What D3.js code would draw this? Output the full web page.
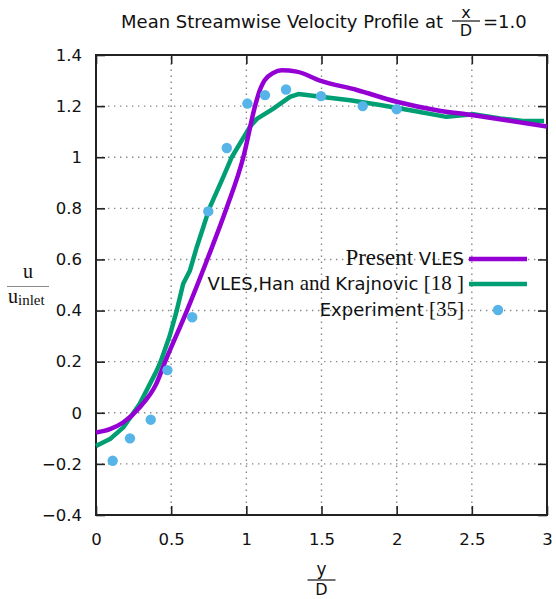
<!DOCTYPE html>
<html>
<head>
<meta charset="utf-8">
<script src="https://cdn.jsdelivr.net/npm/d3@7"></script>
<style>
  body { margin: 0; background: #fff; }
  svg { display: block; }
</style>
</head>
<body>
<div id="chart"></div>
<script>
// Present VLES (y/D, u/u_inlet)
const vlesX = [0, 0.093, 0.18, 0.29, 0.40, 0.46, 0.605, 0.74, 0.868, 0.98, 1.058, 1.09, 1.12, 1.18, 1.235, 1.335, 1.49, 1.735, 2.0, 2.267, 2.5, 2.73, 3.0];
const vlesY = [-0.077, -0.064, -0.038, 0.021, 0.112, 0.2, 0.4, 0.6, 0.8, 1.0, 1.2, 1.263, 1.30, 1.33, 1.34, 1.335, 1.30, 1.263, 1.217, 1.184, 1.165, 1.145, 1.12];

// VLES, Han and Krajnovic [18]
const hanX = [0, 0.093, 0.18, 0.29, 0.40, 0.43, 0.49, 0.537, 0.58, 0.625, 0.67, 0.714, 0.754, 0.847, 0.903, 0.958, 1.025, 1.07, 1.18, 1.29, 1.346, 1.51, 1.69, 1.89, 2.09, 2.33, 2.51, 2.69, 2.84, 2.98];
const hanY = [-0.13, -0.103, -0.058, 0.034, 0.16, 0.2, 0.3, 0.4, 0.505, 0.557, 0.648, 0.727, 0.8, 0.923, 1.0, 1.054, 1.12, 1.15, 1.19, 1.236, 1.247, 1.236, 1.223, 1.204, 1.184, 1.158, 1.168, 1.152, 1.142, 1.142];

// Experiment [35]
const expX = [0.111, 0.226, 0.364, 0.475, 0.64, 0.747, 0.87, 1.007, 1.124, 1.264, 1.497, 1.774, 2.0];
const expY = [-0.188, -0.10, -0.027, 0.167, 0.374, 0.788, 1.036, 1.21, 1.243, 1.265, 1.239, 1.20, 1.188];

const xTicks = [0, 0.5, 1, 1.5, 2, 2.5, 3];
const yTicks = [-0.4, -0.2, 0, 0.2, 0.4, 0.6, 0.8, 1, 1.2, 1.4];

const width = 556, height = 599;
const margin = { left: 96, right: 9, top: 55, bottom: 84 };
const iw = width - margin.left - margin.right;
const ih = height - margin.top - margin.bottom;

const sans = "'DejaVu Sans', Verdana, sans-serif";
const serif = "'Liberation Serif', 'Times New Roman', serif";

const svg = d3.select("#chart").append("svg")
    .attr("width", width)
    .attr("height", height);

const x = d3.scaleLinear().domain([0, 3]).range([margin.left, margin.left + iw]);
const y = d3.scaleLinear().domain([-0.4, 1.4]).range([margin.top + ih, margin.top]);

// grid
const grid = svg.append("g")
    .attr("stroke", "#888")
    .attr("stroke-width", 1.4)
    .attr("stroke-dasharray", "1.4,4.6");
grid.selectAll(".gx").data(xTicks.slice(1, -1)).join("line")
    .attr("x1", d => x(d)).attr("x2", d => x(d))
    .attr("y1", y(-0.4)).attr("y2", y(1.4));
grid.selectAll(".gy").data(yTicks.slice(1, -1)).join("line")
    .attr("y1", d => y(d)).attr("y2", d => y(d))
    .attr("x1", x(0)).attr("x2", x(3));

// axes, ticks pointing inward on all four sides
const tickLen = 9;
const axisColor = "#222";
svg.append("g")
    .attr("transform", `translate(0,${y(-0.4)})`)
    .call(d3.axisBottom(x).tickValues(xTicks).tickSizeInner(-tickLen).tickSizeOuter(0).tickPadding(18).tickFormat(d3.format("")));
svg.append("g")
    .attr("transform", `translate(0,${y(1.4)})`)
    .call(d3.axisTop(x).tickValues(xTicks).tickSizeInner(-tickLen).tickSizeOuter(0).tickFormat(""));
svg.append("g")
    .attr("transform", `translate(${x(0)},0)`)
    .call(d3.axisLeft(y).tickValues(yTicks).tickSizeInner(-tickLen).tickSizeOuter(0).tickPadding(14).tickFormat(d3.format("")));
svg.append("g")
    .attr("transform", `translate(${x(3)},0)`)
    .call(d3.axisRight(y).tickValues(yTicks).tickSizeInner(-tickLen).tickSizeOuter(0).tickFormat(""));

svg.selectAll(".domain").remove();
svg.selectAll(".tick line").attr("stroke", axisColor).attr("stroke-width", 1.6);
svg.selectAll(".tick text")
    .attr("font-family", sans)
    .attr("font-size", 16.5)
    .attr("fill", "#111");

svg.append("rect")
    .attr("x", x(0)).attr("y", y(1.4))
    .attr("width", x(3) - x(0)).attr("height", y(-0.4) - y(1.4))
    .attr("fill", "none")
    .attr("stroke", axisColor)
    .attr("stroke-width", 2);

// curves
const line = d3.line().x(d => x(d[0])).y(d => y(d[1]));

svg.append("path")
    .datum(d3.zip(hanX, hanY))
    .attr("d", line)
    .attr("fill", "none")
    .attr("stroke", "#009E73")
    .attr("stroke-width", 4.5)
    .attr("stroke-linejoin", "round");

svg.append("path")
    .datum(d3.zip(vlesX, vlesY))
    .attr("d", line.curve(d3.curveMonotoneX))
    .attr("fill", "none")
    .attr("stroke", "#9400D3")
    .attr("stroke-width", 4.5)
    .attr("stroke-linejoin", "round");

svg.append("g")
    .selectAll("circle")
    .data(d3.zip(expX, expY))
    .join("circle")
    .attr("cx", d => x(d[0]))
    .attr("cy", d => y(d[1]))
    .attr("r", 5.2)
    .attr("fill", "#56B4E9");

// legend
const lgX = 464;
const legend = svg.append("g").attr("font-size", 18).attr("fill", "#111");

const t1 = legend.append("text").attr("x", lgX).attr("y", 265).attr("text-anchor", "end");
t1.append("tspan").attr("font-family", serif).attr("font-size", 23).text("Present");
t1.append("tspan").attr("font-family", sans).text(" VLES");

const t2 = legend.append("text").attr("x", lgX).attr("y", 290).attr("text-anchor", "end");
t2.append("tspan").attr("font-family", sans).text("VLES,Han");
t2.append("tspan").attr("font-family", serif).attr("font-size", 21).text(" and ");
t2.append("tspan").attr("font-family", sans).text("Krajnovic");
t2.append("tspan").attr("font-family", serif).attr("font-size", 21).text(" [18 ]");

const t3 = legend.append("text").attr("x", lgX).attr("y", 316).attr("text-anchor", "end");
t3.append("tspan").attr("font-family", sans).text("Experiment");
t3.append("tspan").attr("font-family", serif).attr("font-size", 21).text(" [35]");

legend.append("line").attr("x1", 469).attr("x2", 527).attr("y1", 259).attr("y2", 259)
    .attr("stroke", "#9400D3").attr("stroke-width", 4.5);
legend.append("line").attr("x1", 469).attr("x2", 527).attr("y1", 284).attr("y2", 284)
    .attr("stroke", "#009E73").attr("stroke-width", 4.5);
legend.append("circle").attr("cx", 498).attr("cy", 310).attr("r", 5.2).attr("fill", "#56B4E9");

// title
svg.append("text")
    .attr("x", 443).attr("y", 28)
    .attr("text-anchor", "end")
    .attr("font-family", sans).attr("font-size", 18).attr("fill", "#111")
    .text("Mean Streamwise Velocity Profile at");
svg.append("text").attr("x", 466).attr("y", 18).attr("text-anchor", "middle")
    .attr("font-family", sans).attr("font-size", 16).attr("fill", "#111").text("x");
svg.append("line").attr("x1", 452).attr("x2", 480).attr("y1", 21).attr("y2", 21)
    .attr("stroke", "#111").attr("stroke-width", 1.2);
svg.append("text").attr("x", 466).attr("y", 36).attr("text-anchor", "middle")
    .attr("font-family", sans).attr("font-size", 16).attr("fill", "#111").text("D");
svg.append("text").attr("x", 483).attr("y", 28)
    .attr("font-family", sans).attr("font-size", 18).attr("fill", "#111").text("=1.0");

// x label
const xc = x(1.5);
svg.append("text").attr("x", xc).attr("y", 575).attr("text-anchor", "middle")
    .attr("font-family", sans).attr("font-size", 17).attr("fill", "#111").text("y");
svg.append("line").attr("x1", xc - 14).attr("x2", xc + 14).attr("y1", 580).attr("y2", 580)
    .attr("stroke", "#111").attr("stroke-width", 1.2);
svg.append("text").attr("x", xc).attr("y", 595).attr("text-anchor", "middle")
    .attr("font-family", sans).attr("font-size", 16).attr("fill", "#111").text("D");

// y label
svg.append("text").attr("x", 28).attr("y", 278).attr("text-anchor", "middle")
    .attr("font-family", serif).attr("font-size", 20).attr("fill", "#111").text("u");
svg.append("line").attr("x1", 7).attr("x2", 49).attr("y1", 286.5).attr("y2", 286.5)
    .attr("stroke", "#888").attr("stroke-width", 1.2);
const yl = svg.append("text").attr("x", 8).attr("y", 303)
    .attr("font-family", serif).attr("font-size", 20).attr("fill", "#111");
yl.append("tspan").text("u");
yl.append("tspan").attr("font-size", 15).attr("dy", 2).text("inlet");
</script>
</body>
</html>
